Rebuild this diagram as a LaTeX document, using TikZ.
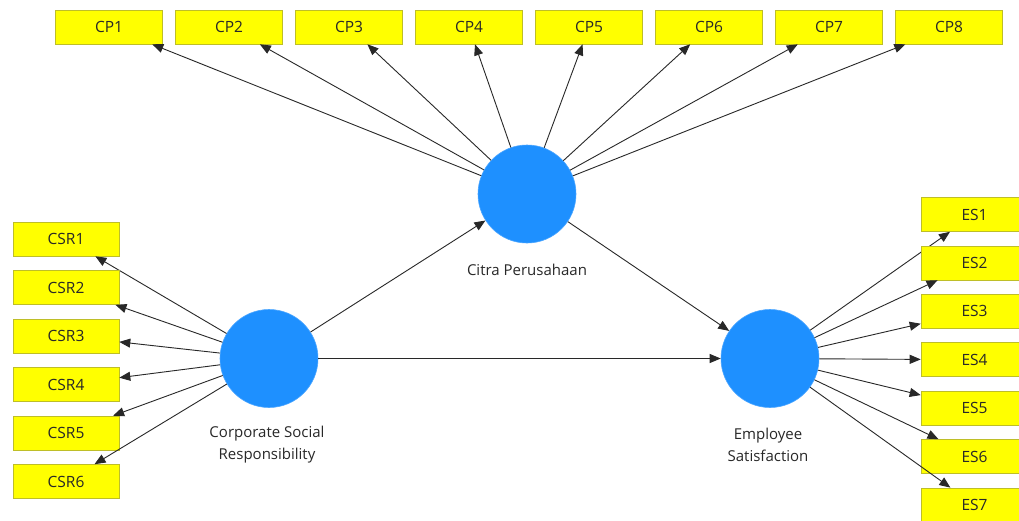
\documentclass[tikz,border=0pt]{standalone}
\usepackage{fontspec}
\setmainfont{Open Sans}
\usetikzlibrary{arrows.meta}
\definecolor{lvblue}{RGB}{30,144,255}
\definecolor{boxyel}{RGB}{255,255,0}
\definecolor{boxedge}{RGB}{190,190,40}
\definecolor{txt}{RGB}{40,40,40}
\definecolor{linec}{RGB}{40,40,40}
\tikzset{
  latent/.style={circle,fill=lvblue,draw=lvblue!80!white,line width=0.6pt,minimum size=98pt,inner sep=0pt},
  indic/.style={rectangle,fill=boxyel,draw=boxedge,line width=0.6pt,minimum width=107pt,minimum height=34pt,inner sep=0pt,text=txt,font=\fontsize{15.5}{17}\selectfont},
  lvlabel/.style={text=txt,font=\fontsize{15}{22}\selectfont,align=center,inner sep=0pt},
  arr/.style={draw=linec,line width=0.9pt,-{Triangle[length=11pt,width=9pt]}}
}
\begin{document}
\begin{tikzpicture}[x=1pt,y=-1pt]
\useasboundingbox (0,0) rectangle (1019,520);
\clip (0,0) rectangle (1019,520);
\fill[white] (0,0) rectangle (1019,520);
% latent variables
\node[latent] (cit) at (527,194) {};
\node[latent] (csr) at (269,358.5) {};
\node[latent] (es) at (770,358.5) {};
\node[lvlabel] (citl) at (527,270) {Citra Perusahaan};
\node[lvlabel] (csrl) at (267,445) {Corporate Social\\Responsibility};
\node[lvlabel] (esl) at (768,445) {Employee\\Satisfaction};
% CP indicators
\foreach \i in {1,...,8}{
  \node[indic] (cp\i) at ({109+120*(\i-1)},27) {CP\i};
  \draw[arr] (cit) -- (cp\i);
}
% CSR indicators
\foreach \i in {1,...,6}{
  \node[indic,minimum width=106pt] (csr\i) at (66,{239+48.5*(\i-1)}) {CSR\i};
  \draw[arr] (csr) -- (csr\i);
}
% ES indicators
\foreach \i in {1,...,7}{
  \node[indic] (es\i) at (974.5,{214.5+48.4*(\i-1)}) {ES\i};
  \draw[arr] (es) -- (es\i);
}
% structural paths
\draw[arr] (csr) -- (cit);
\draw[arr] (csr) -- (es);
\draw[arr] (cit) -- (es);
\end{tikzpicture}
\end{document}
